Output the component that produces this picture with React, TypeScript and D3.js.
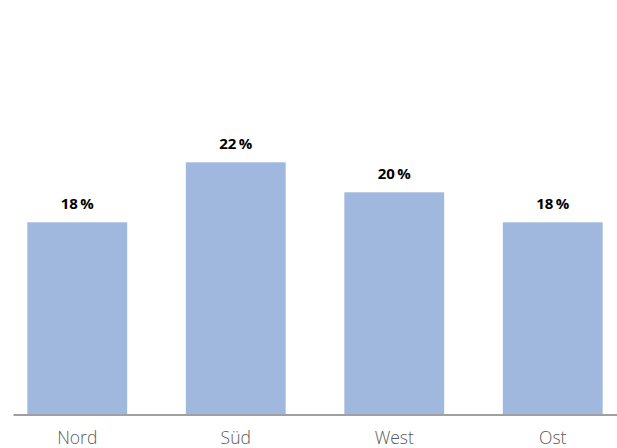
import React from "react";
import * as d3 from "d3";

const categories = ["Nord", "Süd", "West", "Ost"];
const values = [18, 22, 20, 18];
const valueLabels = ["18\u2009%", "22\u2009%", "20\u2009%", "18\u2009%"];

const W = 617;
const H = 448;

export default function App() {
  const x = d3.scaleBand<string>().domain(categories).range([-2, 632]).paddingInner(0.37).paddingOuter(0.185);
  const y = d3.scaleLinear().domain([5.22, 22]).range([414, 162.3]);
  const font = "'Open Sans', 'Segoe UI', sans-serif";
  return (
    <svg width={W} height={H} style={{ position: "absolute", left: 0, top: 0 }}>
      <rect width={W} height={H} fill="#ffffff" />
      {categories.map((c, i) => (
        <g key={c}>
          <rect x={x(c)} y={y(values[i])} width={x.bandwidth()} height={y(5.22) - y(values[i])} fill="#a0b8de" />
          <text x={(x(c) as number) + x.bandwidth() / 2} y={y(values[i]) - 13} textAnchor="middle" fontFamily={font} fontWeight={700} fontSize={15} fill="#000">
            {valueLabels[i]}
          </text>
          <text x={(x(c) as number) + x.bandwidth() / 2} y={444} textAnchor="middle" fontFamily={font} fontWeight={300} fontSize={17.5} fill="#595959">
            {c}
          </text>
        </g>
      ))}
      <line x1={13.5} x2={617} y1={415} y2={415} stroke="#808080" strokeWidth={1.5} />
    </svg>
  );
}
